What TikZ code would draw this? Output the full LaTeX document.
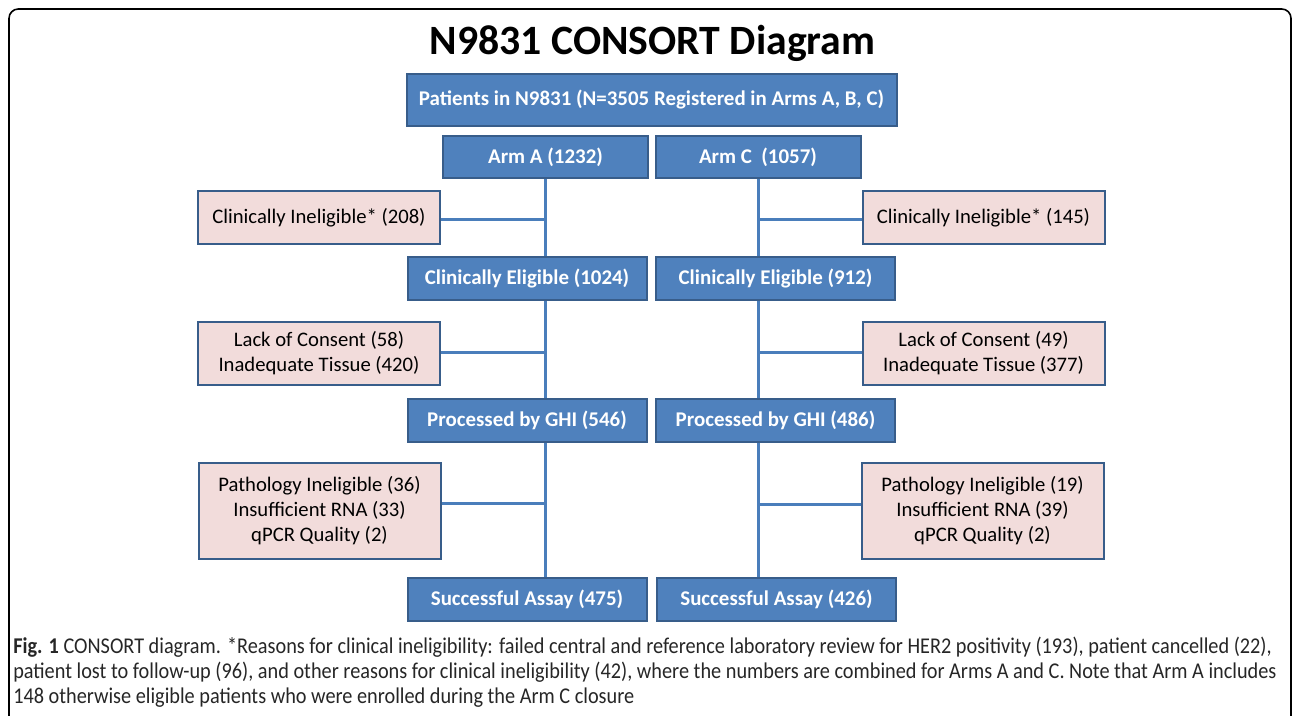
\documentclass[tikz,border=0pt]{standalone}
\usepackage{fontspec}
\setmainfont{Carlito}
\newfontfamily\capfont[FakeStretch=0.9]{Carlito}
\usepackage{xcolor}
\usetikzlibrary{calc}

\definecolor{boxblue}{HTML}{4F81BD}
\definecolor{boxedge}{HTML}{385D8A}
\definecolor{exclpink}{HTML}{F2DCDB}
\definecolor{linkblue}{HTML}{4A7EBB}

\begin{document}
\begin{tikzpicture}[x=0.75pt,y=-0.75pt,
  stage/.style={draw=boxedge,line width=1.5pt,fill=boxblue,text=white,
    font=\fontsize{15.7}{18}\selectfont\bfseries,inner sep=0pt,
    minimum width=179.25pt,minimum height=32.25pt},
  excl/.style={draw=boxedge,line width=1.5pt,fill=exclpink,align=center,
    font=\fontsize{15.5}{18.75}\selectfont,inner sep=0pt,minimum width=181.5pt},
  link/.style={draw=linkblue,line width=2.25pt}]
  \useasboundingbox (0,0) rectangle (1292,716);

  % frame
  \draw[line width=1.2pt,rounded corners=7pt] (9,760) -- (9,9) -- (1291,9) -- (1291,760);

  \node (title) at (652.5,43) {\fontsize{31.3}{36}\selectfont\bfseries N9831 CONSORT Diagram};

  % main column
  \node[stage,minimum width=367.5pt,minimum height=39pt] (reg) at (651.5,100)
    {Patients in N9831 (N=3505 Registered in Arms A, B, C)};
  \node[stage,minimum width=153.75pt,minimum height=31.5pt] (armA) at (545.5,157) {Arm A (1232)};
  \node[stage,minimum width=153.75pt,minimum height=31.5pt] (armC) at (758,157) {Arm C\ \ (1057)};

  \node[stage] (eligA) at (527,279) {Clinically Eligible (1024)};
  \node[stage] (eligC) at (775.5,279) {Clinically Eligible (912)};
  \node[stage] (procA) at (527,420.5) {Processed by GHI (546)};
  \node[stage] (procC) at (775.5,420.5) {Processed by GHI (486)};
  \node[stage] (succA) at (527,599.5) {Successful Assay (475)};
  \node[stage] (succC) at (776.5,599.5) {Successful Assay (426)};

  % exclusions
  \node[excl,minimum height=39.75pt] (ineA) at (319,218) {Clinically Ineligible* (208)};
  \node[excl,minimum height=39.75pt] (ineC) at (983.5,218) {Clinically Ineligible* (145)};
  \node[excl,minimum height=47.25pt] (lossA) at (319,353.5) {Lack of Consent (58)\\Inadequate Tissue (420)};
  \node[excl,minimum height=47.25pt] (lossC) at (983.5,353.5) {Lack of Consent (49)\\Inadequate Tissue (377)};
  \node[excl,minimum height=72pt] (pathA) at (319.5,511)
    {Pathology Ineligible (36)\\Insufficient RNA (33)\\qPCR Quality (2)};
  \node[excl,minimum height=72pt] (pathC) at (982.5,511)
    {Pathology Ineligible (19)\\Insufficient RNA (39)\\qPCR Quality (2)};

  % trunks
  \draw[link] (armA.south) -- (armA.south |- eligA.north);
  \draw[link] (armA.south |- eligA.south) -- (armA.south |- procA.north);
  \draw[link] (armA.south |- procA.south) -- (armA.south |- succA.north);
  \draw[link] (armC.south) -- (armC.south |- eligC.north);
  \draw[link] (armC.south |- eligC.south) -- (armC.south |- procC.north);
  \draw[link] (armC.south |- procC.south) -- (armC.south |- succC.north);

  % side branches
  \coordinate (jA1) at (545.5,220);
  \coordinate (jA2) at (545.5,353);
  \coordinate (jA3) at (545.5,503);
  \coordinate (jC1) at (758,220);
  \coordinate (jC2) at (758,353);
  \coordinate (jC3) at (758,504);
  \draw[link] (jA1) -- (jA1 -| ineA.east);
  \draw[link] (jA2) -- (jA2 -| lossA.east);
  \draw[link] (jA3) -- (jA3 -| pathA.east);
  \draw[link] (jC1) -- (jC1 -| ineC.west);
  \draw[link] (jC2) -- (jC2 -| lossC.west);
  \draw[link] (jC3) -- (jC3 -| pathC.west);

  % caption
  \begin{scope}[every node/.style={anchor=base west,inner sep=0pt,text=black!85,
      font=\capfont\fontsize{16.9}{18}\selectfont}]
    \node (cap1) at (13,653) {\textbf{Fig. 1} CONSORT diagram. *Reasons for clinical ineligibility: failed central and reference laboratory review for HER2 positivity (193), patient cancelled (22),};
    \node (cap2) at (13,678) {patient lost to follow-up (96), and other reasons for clinical ineligibility (42), where the numbers are combined for Arms A and C. Note that Arm A includes};
    \node (cap3) at (13,703) {148 otherwise eligible patients who were enrolled during the Arm C closure};
  \end{scope}
\end{tikzpicture}
\end{document}
